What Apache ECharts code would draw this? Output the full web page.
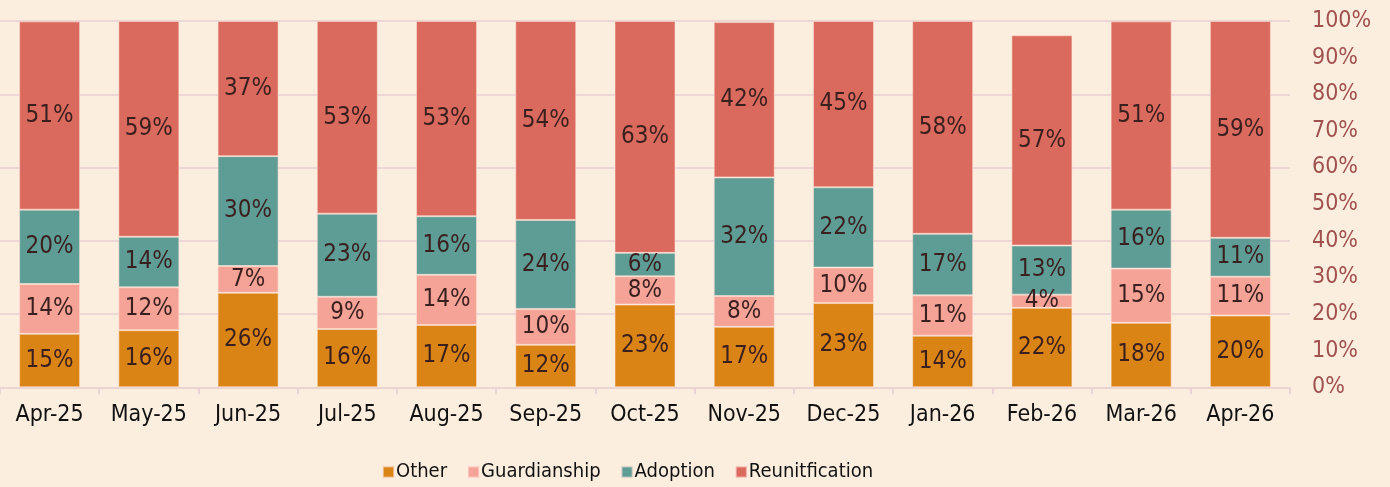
<!DOCTYPE html>
<html>
<head>
<meta charset="utf-8">
<script src="https://cdn.jsdelivr.net/npm/echarts@6/dist/echarts.min.js"></script>
<style>
html,body{margin:0;padding:0;background:#FCEEDF;}
#main{width:1390px;height:487px;}
</style>
</head>
<body>
<div id="main"></div>
<script>
// categories and values (percent shares)
var months = ["Apr-25","May-25","Jun-25","Jul-25","Aug-25","Sep-25","Oct-25","Nov-25","Dec-25","Jan-26","Feb-26","Mar-26","Apr-26"];
var other = [14.6,15.6,25.8,15.9,17.0,11.6,22.6,16.5,23.0,14.1,21.7,17.6,19.6];
var guardianship = [13.6,11.7,7.3,8.8,13.7,9.8,7.7,8.4,9.7,11.0,3.6,14.8,10.6];
var adoption = [20.3,13.8,30.0,22.7,16.0,24.3,6.4,32.4,21.9,16.8,13.4,16.1,10.6];
var reunification = [51.4,58.9,36.9,52.6,53.3,54.3,63.3,42.4,45.4,58.1,57.4,51.4,59.2];
var yTicks = [0,10,20,30,40,50,60,70,80,90,100];

var FONT = '"DejaVu Sans Condensed","DejaVu Sans",sans-serif';

function mkSeries(name, data, color){
	return {
		name: name,
		type: "bar",
		stack: "total",
		barWidth: 61,
		data: data,
		itemStyle: {
			color: color,
			borderColor: "rgba(255,225,215,0.55)",
			borderWidth: 1
		},
		label: {
			show: true,
			position: "inside",
			color: "#3a1f1f",
			fontFamily: FONT,
			fontSize: 24,
			formatter: function(p){ return Math.round(p.value) + "%"; }
		}
	};
}

var myChart = echarts.init(document.getElementById("main"));

var option = {
	backgroundColor: "#FCEEDF",
	animation: false,
	grid: { left: -4, right: 100, top: 21, bottom: 99.7, containLabel: false },
	legend: {
		left: 382,
		top: 461,
		padding: 0,
		itemWidth: 11,
		itemHeight: 11,
		itemGap: 20,
		icon: "rect",
		textStyle: { color: "#111", fontFamily: FONT, fontSize: 20, padding: [0,0,0,-3], lineHeight: 22 },
		data: ["Other","Guardianship","Adoption","Reunitfication"]
	},
	xAxis: {
		type: "category",
		data: months,
		axisLine: { lineStyle: { color: "#ead4d3", width: 2 } },
		axisTick: { show: true, length: 7, lineStyle: { color: "#ead4d3", width: 2 } },
		axisLabel: { color: "#111", fontFamily: FONT, fontSize: 23, margin: 16 }
	},
	yAxis: [
		{
			type: "value",
			position: "right",
			min: yTicks[0],
			max: yTicks[yTicks.length - 1],
			interval: 10,
			axisLine: { show: false },
			axisTick: { show: false },
			splitLine: { show: false },
			axisLabel: {
				color: "#a0504e",
				fontFamily: FONT,
				fontSize: 23,
				margin: 22,
				align: "left",
				formatter: "{value}%"
			}
		},
		{
			type: "value",
			position: "right",
			min: 0,
			max: 100,
			interval: 20,
			axisLine: { show: false },
			axisTick: { show: false },
			axisLabel: { show: false },
			splitLine: { show: true, lineStyle: { color: "#ecd7d5", width: 2 } }
		}
	],
	series: [
		mkSeries("Other", other, "#DA8415"),
		mkSeries("Guardianship", guardianship, "#F4A396"),
		mkSeries("Adoption", adoption, "#5E9C96"),
		mkSeries("Reunitfication", reunification, "#D96A5D")
	]
};

myChart.setOption(option);
</script>
</body>
</html>
